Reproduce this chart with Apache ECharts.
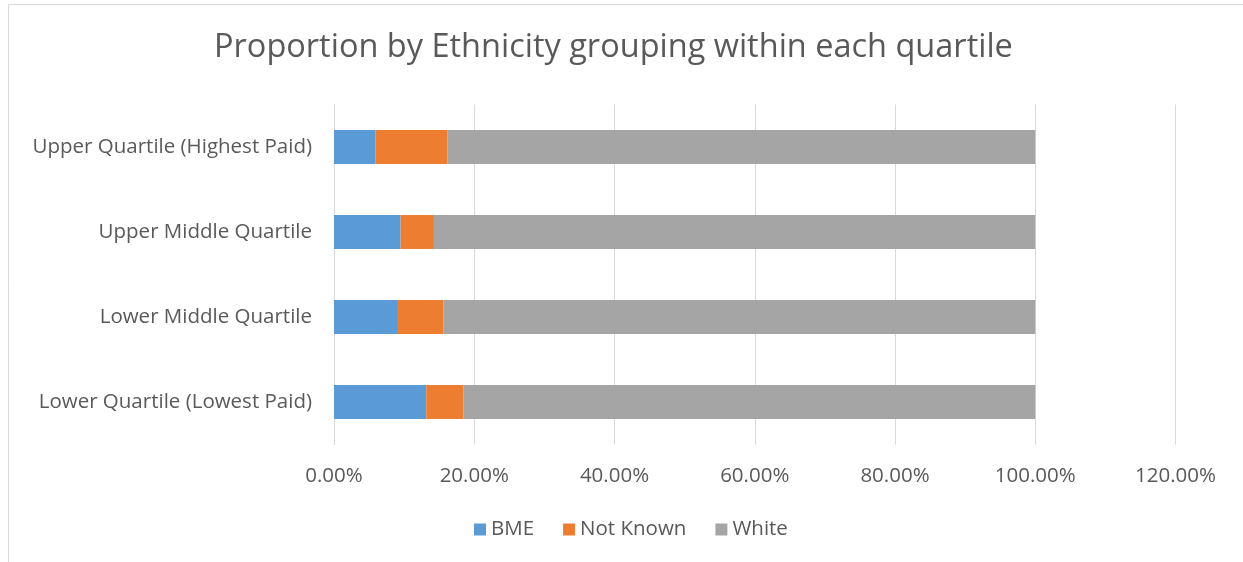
<!DOCTYPE html>
<html>
<head>
<meta charset="utf-8">
<script src="https://cdn.jsdelivr.net/npm/echarts@6/dist/echarts.min.js"></script>
<style>html,body{margin:0;padding:0;background:#fff;}#c{width:1243px;height:562px;}</style>
</head>
<body>
<div id="c"></div>
<script>
const categories = ['Upper Quartile (Highest Paid)', 'Upper Middle Quartile', 'Lower Middle Quartile', 'Lower Quartile (Lowest Paid)'];
const bme = [5.89, 9.50, 9.12, 13.16];
const notKnown = [10.31, 4.75, 6.48, 5.27];
const white = [83.80, 85.75, 84.40, 81.57];
const xTicks = { min: 0, max: 120, interval: 20 };

const FONT = 'Open Sans';
const TXT = '#595959';
const chart = echarts.init(document.getElementById('c'), null, { renderer: 'canvas' });
function mk(name, data, color) {
  return { name, type: 'bar', stack: 'total', data, barWidth: '40%',
    itemStyle: { color }, emphasis: { disabled: true } };
}
chart.setOption({
  animation: false,
  textStyle: { fontFamily: FONT },
  graphic: [{ type: 'rect', shape: { x: 8.5, y: 4.5, width: 1300, height: 700 },
    style: { fill: 'none', stroke: '#d9d9d9', lineWidth: 1 }, silent: true }],
  title: { text: 'Proportion by Ethnicity grouping within each quartile', left: 209, top: 26,
    textStyle: { fontFamily: FONT, fontSize: 32.5, fontWeight: 'normal', color: TXT } },
  legend: { bottom: 17, left: 469, itemWidth: 12, itemHeight: 12, itemGap: 29,
    icon: 'rect', textStyle: { fontFamily: FONT, fontSize: 20.5, color: TXT },
    data: ['BME', 'Not Known', 'White'] },
  grid: { left: 334, right: 67.5, top: 104.5, bottom: 117.5, containLabel: false },
  xAxis: { type: 'value', min: xTicks.min, max: xTicks.max, interval: xTicks.interval,
    axisLine: { show: false }, axisTick: { show: false },
    splitLine: { lineStyle: { color: '#d9d9d9', width: 1 } },
    axisLabel: { formatter: v => v.toFixed(2) + '%', fontSize: 20.5, color: TXT, margin: 21 } },
  yAxis: { type: 'category', data: categories, inverse: true,
    axisLine: { show: true, lineStyle: { color: '#d9d9d9' } }, axisTick: { show: false },
    axisLabel: { fontSize: 20.5, color: TXT, margin: 22 } },
  series: [mk('BME', bme, '#5B9BD5'), mk('Not Known', notKnown, '#ED7D31'), mk('White', white, '#A5A5A5')]
});
</script>
</body>
</html>
